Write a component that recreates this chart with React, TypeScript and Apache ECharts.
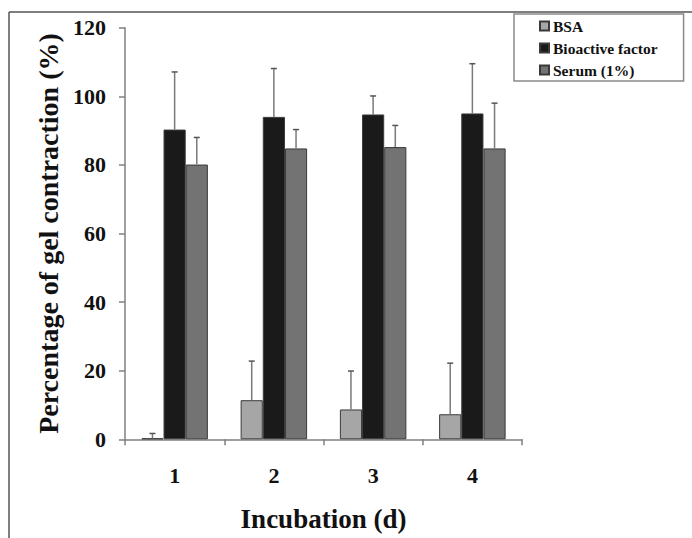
import React, { useEffect, useRef } from "react";
import * as echarts from "echarts";

const categories = ["1", "2", "3", "4"];
const seriesNames = ["BSA", "Bioactive factor", "Serum (1%)"];
const bsaValues = [0.3, 11.4, 8.7, 7.3];
const bsaErrors = [1.4, 11.4, 11.2, 14.9];
const bioValues = [90.3, 94.0, 94.7, 95.0];
const bioErrors = [16.8, 14.1, 5.4, 14.5];
const serumValues = [80.1, 84.8, 85.2, 84.8];
const serumErrors = [7.9, 5.5, 6.3, 13.2];
const yTicks = { min: 0, max: 120, interval: 20 };

const colors = ["#a6a6a6", "#1a1a1a", "#737373"];
const FONT = "Liberation Serif";
const CAT_GAP = 0.33;

export default function App() {
  const ref = useRef<HTMLDivElement>(null);
  useEffect(() => {
    if (!ref.current) return;
    const chart = echarts.init(ref.current, null, { renderer: "svg" });
    const values = [bsaValues, bioValues, serumValues];
    const errors = [bsaErrors, bioErrors, serumErrors];

    const barSeries = seriesNames.map((name, i) => ({
      name,
      type: "bar",
      data: values[i],
      barGap: "0%",
      barCategoryGap: CAT_GAP * 100 + "%",
      itemStyle: { color: colors[i], borderColor: "#3a3a3a", borderWidth: 1 },
      z: 2,
    }));

    const errSeries = seriesNames.map((name, i) => ({
      name: name + " error",
      type: "custom",
      z: 3,
      data: values[i].map((v, k) => [k, v, errors[i][k]]),
      encode: { x: 0, y: 1 },
      renderItem: (params: any, api: any) => {
        const idx = api.value(0);
        const v = api.value(1);
        const e = api.value(2);
        const base = api.coord([idx, v]);
        const top = api.coord([idx, v + e]);
        const band = api.size([1, 0])[0];
        const bw = (band * (1 - CAT_GAP)) / 3;
        const x = base[0] + (i - 1) * bw;
        return {
          type: "group",
          children: [
            {
              type: "line",
              shape: { x1: x, y1: base[1], x2: x, y2: top[1] },
              style: { stroke: "#7a7a7a", lineWidth: 1.5 },
            },
            {
              type: "line",
              shape: { x1: x - 3, y1: top[1], x2: x + 3, y2: top[1] },
              style: { stroke: "#555", lineWidth: 1.5 },
            },
          ],
        };
      },
    }));

    chart.setOption({
      animation: false,
      backgroundColor: "#ffffff",
      textStyle: { fontFamily: FONT },
      grid: { left: 125, right: 170, top: 27.7, bottom: 98.7 },
      legend: {
        data: seriesNames,
        orient: "vertical",
        left: 514,
        top: 14,
        padding: [4, 26, 3, 25],
        itemWidth: 9,
        itemHeight: 9,
        itemGap: 6,
        borderColor: "#8a8a8a",
        borderWidth: 1.5,
        icon: "rect",
        textStyle: {
          fontFamily: FONT,
          fontWeight: "bold",
          fontSize: 15.5,
          lineHeight: 16,
          color: "#111",
          padding: [0, 0, 0, -1],
        },
      },
      xAxis: {
        type: "category",
        data: categories,
        name: "Incubation (d)",
        nameLocation: "middle",
        nameGap: 66,
        nameTextStyle: { fontFamily: FONT, fontWeight: "bold", fontSize: 27, color: "#111" },
        axisLine: { lineStyle: { color: "#808080", width: 1.5 } },
        axisTick: { show: true, length: 6, lineStyle: { color: "#808080", width: 1.5 } },
        axisLabel: { margin: 25, fontFamily: FONT, fontWeight: "bold", fontSize: 22, color: "#111" },
      },
      yAxis: {
        type: "value",
        min: yTicks.min,
        max: yTicks.max,
        interval: yTicks.interval,
        name: "Percentage of gel contraction (%)",
        nameLocation: "middle",
        nameGap: 63,
        nameTextStyle: { fontFamily: FONT, fontWeight: "bold", fontSize: 28, color: "#111" },
        axisLine: { show: true, lineStyle: { color: "#808080", width: 1.5 } },
        axisTick: { show: true, length: 6, lineStyle: { color: "#808080", width: 1.5 } },
        splitLine: { show: false },
        axisLabel: { margin: 19, fontFamily: FONT, fontWeight: "bold", fontSize: 22, color: "#111" },
      },
      graphic: [
        {
          type: "line",
          shape: { x1: 9, y1: 12, x2: 692, y2: 12 },
          style: { stroke: "#555", lineWidth: 1.5 },
          z: 10,
        },
        {
          type: "line",
          shape: { x1: 9, y1: 12, x2: 9, y2: 538 },
          style: { stroke: "#555", lineWidth: 1.5 },
          z: 10,
        },
      ],
      series: [...barSeries, ...errSeries],
    });
    return () => chart.dispose();
  }, []);
  return <div ref={ref} style={{ width: 692, height: 538, position: "absolute", left: 0, top: 0 }} />;
}
